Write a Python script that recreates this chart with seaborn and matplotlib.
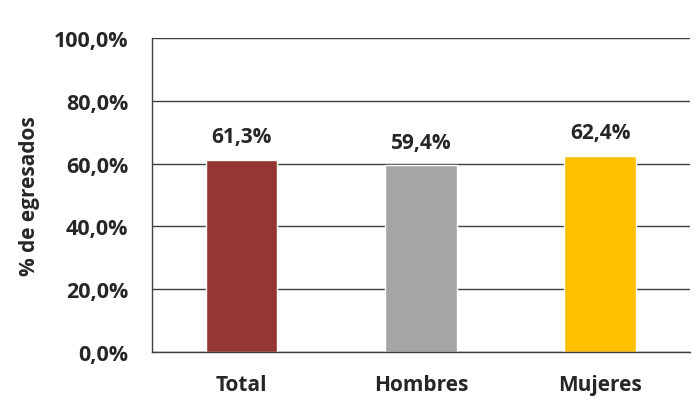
import matplotlib
matplotlib.use("Agg")
import matplotlib.pyplot as plt
import seaborn as sns
import pandas as pd

categorias = ["Total", "Hombres", "Mujeres"]
valores = [61.3, 59.4, 62.4]
colores = ["#943634", "#A5A5A5", "#FFC000"]
ticks_y = [0, 20, 40, 60, 80, 100]

sns.set_style("white")
plt.rcParams['font.family'] = ['Open Sans', 'DejaVu Sans']

df = pd.DataFrame({"categoria": categorias, "valor": valores})

fig = plt.figure(figsize=(6.97, 4.06), dpi=100)
ax = fig.add_axes([0.218, 0.1305, 0.772, 0.7735])

sns.barplot(data=df, x="categoria", y="valor", hue="categoria",
            palette=colores, width=0.4, legend=False, ax=ax, saturation=1)

ax.set_xlim(-0.5, 2.5)
ax.set_ylim(0, 100)
ax.set_yticks(ticks_y)
ax.set_yticklabels([f"{t:.1f}%".replace(".", ",") for t in ticks_y],
                   fontsize=15.5, fontweight="bold")
ax.yaxis.grid(True, color="#404040", linewidth=1)
ax.set_axisbelow(True)

ax.set_xticks([0, 1, 2])
ax.set_xticklabels(categorias, fontsize=15, fontweight="bold")
ax.set_xticks([-0.5, 0.5, 1.5, 2.5], minor=True)
ax.tick_params(axis="x", which="major", length=0, pad=16)
ax.tick_params(axis="x", which="minor", length=6, width=1, color="#404040", direction="out")
ax.tick_params(axis="y", length=7, width=1, color="#404040", direction="out", pad=10)

for s in ["top", "right"]:
    ax.spines[s].set_visible(False)
for s in ["left", "bottom"]:
    ax.spines[s].set_color("#404040")
    ax.spines[s].set_linewidth(1)

ax.set_xlabel("")
ax.set_ylabel("% de egresados", fontsize=15, fontweight="bold", labelpad=10)

for i, v in enumerate(valores):
    ax.text(i, v + 4, f"{v:.1f}%".replace(".", ","), ha="center", va="bottom",
            fontsize=15, fontweight="bold")

fig.savefig("out.png", dpi=100)
